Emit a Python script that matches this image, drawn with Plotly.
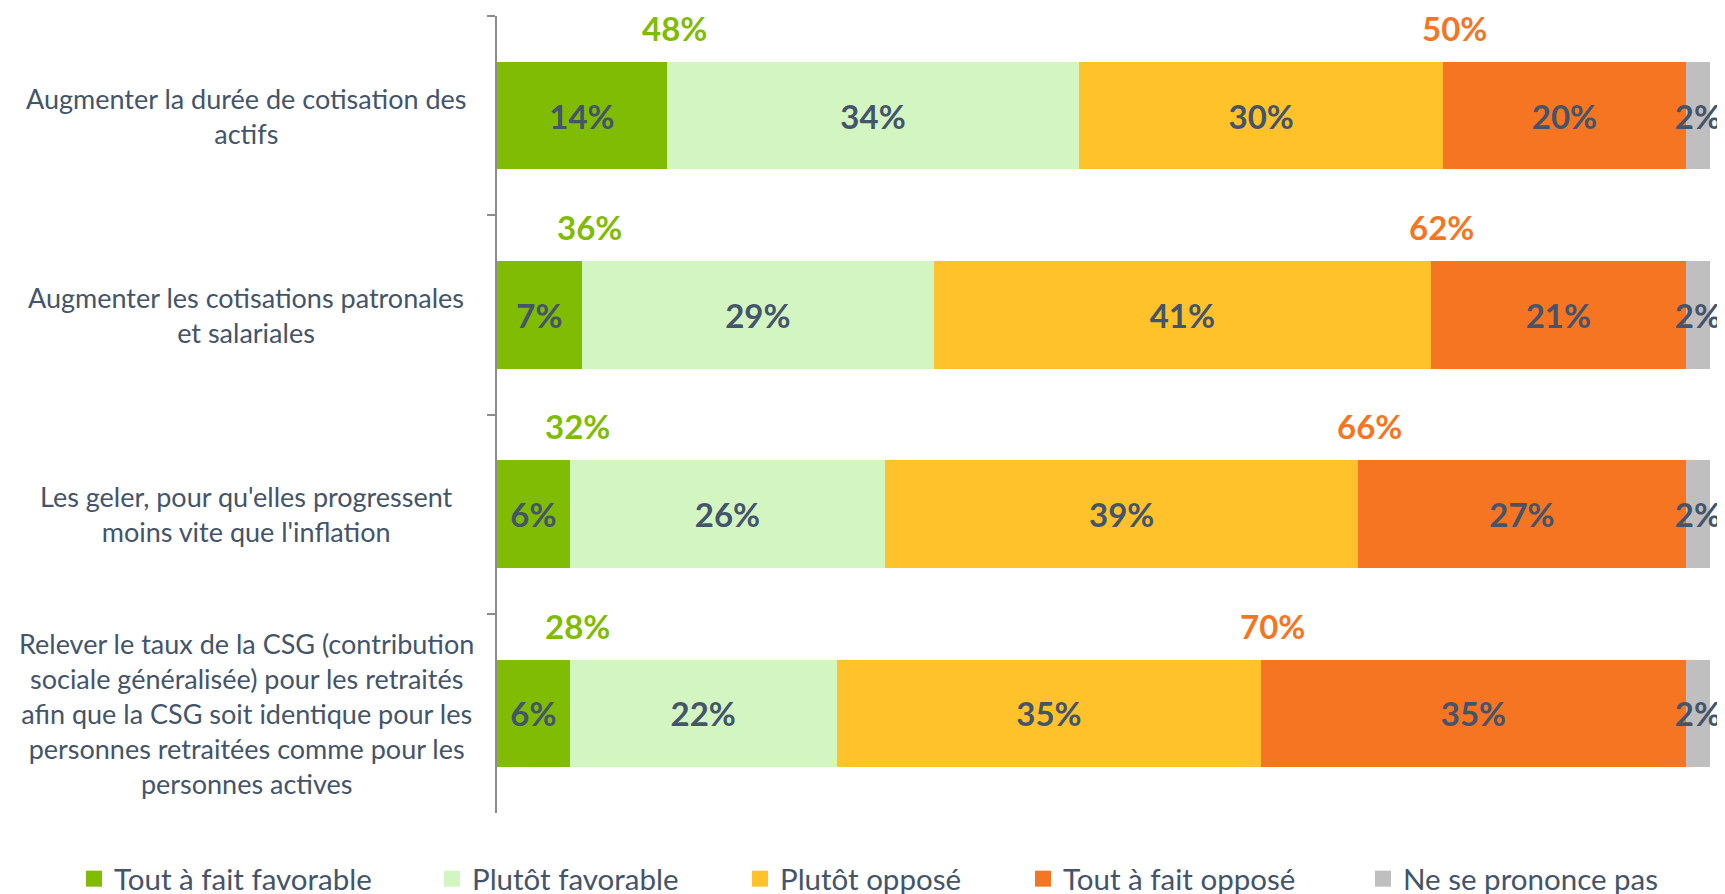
import plotly.graph_objects as go

categories = [
    "Augmenter la durée de cotisation des<br>actifs",
    "Augmenter les cotisations patronales<br>et salariales",
    "Les geler, pour qu'elles progressent<br>moins vite que l'inflation",
    "Relever le taux de la CSG (contribution<br>sociale généralisée) pour les retraités<br>afin que la CSG soit identique pour les<br>personnes retraitées comme pour les<br>personnes actives",
]
series_names = ["Tout à fait favorable", "Plutôt favorable", "Plutôt opposé",
                "Tout à fait opposé", "Ne se prononce pas"]
tout_fait_favorable = [14, 7, 6, 6]
plutot_favorable = [34, 29, 26, 22]
plutot_oppose = [30, 41, 39, 35]
tout_fait_oppose = [20, 21, 27, 35]
ne_se_prononce_pas = [2, 2, 2, 2]
total_favorable = [48, 36, 32, 28]
total_oppose = [50, 62, 66, 70]

colors = ["#7FBC03", "#D3F5C1", "#FFC22B", "#F57523", "#BFBFBF"]
text_dark = "#44546A"
font_family = "Lato, Open Sans, sans-serif"

W, H = 1725, 894
ml, mr, mt, mb = 489, 23, 8, 89
pw = W - ml - mr
ph = H - mt - mb

values = [tout_fait_favorable, plutot_favorable, plutot_oppose,
          tout_fait_oppose, ne_se_prononce_pas]

fig = go.Figure()
legend_px = [80, 438, 746, 1029, 1369]
for i, (name, vals, col) in enumerate(zip(series_names, values, colors)):
    lg = "legend" if i == 0 else f"legend{i+1}"
    fig.add_trace(go.Bar(
        y=categories, x=vals, name=name, orientation="h",
        marker=dict(color=col, line=dict(width=0)),
        width=0.54,
        text=[f"{v}%" for v in vals],
        textposition="inside", insidetextanchor="middle", textangle=0,
        constraintext="none", cliponaxis=False,
        textfont=dict(family=font_family, size=33, color=text_dark, weight="bold"),
        showlegend=False,
        hoverinfo="skip",
    ))
    # legend entry (larger square swatch, as in the reference)
    fig.add_trace(go.Scatter(
        x=[None], y=[None], mode="markers", name=name,
        marker=dict(symbol="square", size=18, color=col, line=dict(width=0)),
        legend=lg, showlegend=True, hoverinfo="skip",
    ))

annotations = []
for i, lab in enumerate(categories):
    annotations.append(dict(
        x=(238 - ml) / pw, xref="paper", y=lab, yref="y",
        text=lab, showarrow=False, xanchor="center", yanchor="middle",
        align="center", font=dict(family=font_family, size=27, color=text_dark),
    ))
for i in range(len(categories)):
    fx = tout_fait_favorable[i] + 0.6
    ox = 100 - ne_se_prononce_pas[i] - tout_fait_oppose[i] + 0.9
    annotations.append(dict(
        x=fx, y=i - 0.44, xref="x", yref="y", text=f"{total_favorable[i]}%",
        showarrow=False, xanchor="center", yanchor="middle",
        font=dict(family=font_family, size=33, color="#7FBC03", weight="bold"),
    ))
    annotations.append(dict(
        x=ox, y=i - 0.44, xref="x", yref="y", text=f"{total_oppose[i]}%",
        showarrow=False, xanchor="center", yanchor="middle",
        font=dict(family=font_family, size=33, color="#F57523", weight="bold"),
    ))

layout_legends = {}
for i, px in enumerate(legend_px):
    key = "legend" if i == 0 else f"legend{i+1}"
    layout_legends[key] = dict(
        x=(px - 14 - ml) / pw, xref="paper", xanchor="left",
        y=(H - mb - 871) / ph, yref="paper", yanchor="middle",
        orientation="h", bgcolor="rgba(0,0,0,0)", borderwidth=0,
        font=dict(family=font_family, size=29.5, color=text_dark),
    )

fig.update_layout(
    width=W, height=H,
    margin=dict(l=ml, r=mr, t=mt, b=mb, pad=0, autoexpand=False),
    barmode="stack",
    plot_bgcolor="white", paper_bgcolor="white",
    showlegend=True,
    xaxis=dict(range=[0, 100], visible=False, fixedrange=True),
    yaxis=dict(
        type="category", categoryorder="array", categoryarray=categories,
        range=[len(categories) - 0.5, -0.5],
        showticklabels=False, tickson="boundaries", ticks="outside",
        ticklen=8, tickwidth=1.5, tickcolor="#8C8C8C",
        showline=True, linecolor="#8C8C8C", linewidth=1.5,
        showgrid=False, zeroline=False, fixedrange=True,
    ),
    annotations=annotations,
    **layout_legends,
)

fig.write_html("out.html")
